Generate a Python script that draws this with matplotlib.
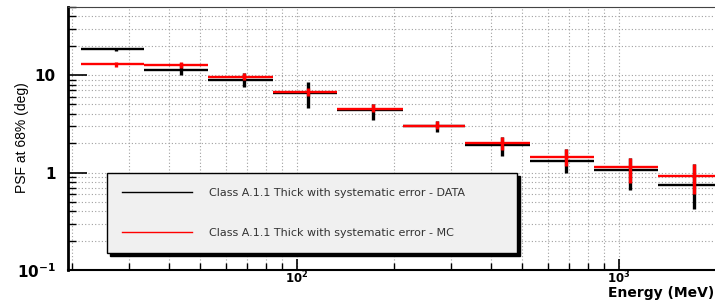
import numpy as np
import matplotlib
matplotlib.use('Agg')
import matplotlib.pyplot as plt
from matplotlib.ticker import LogLocator, FixedLocator, FixedFormatter, NullFormatter
from matplotlib.lines import Line2D

# energy bins (MeV) and PSF 68% containment (deg)
energy = [27.4, 43.4, 68.4, 108, 172, 272, 432, 684, 1082, 1710]
e_lo = [21.3, 33.5, 52.9, 84.2, 133, 213, 333, 529, 836, 1322]
e_hi = [33.5, 52.9, 84.2, 133, 213, 333, 529, 836, 1322, 2100]

psf_data = [18.4, 11.3, 9.0, 6.5, 4.35, 2.97, 1.93, 1.30, 1.05, 0.74]
data_up = [19.2, 13.3, 10.4, 8.4, 5.0, 3.39, 2.34, 1.74, 1.41, 1.23]
data_lo = [17.6, 10.0, 7.6, 4.57, 3.47, 2.6, 1.49, 0.98, 0.67, 0.42]

psf_mc = [13.0, 12.6, 9.6, 6.76, 4.5, 3.02, 2.01, 1.45, 1.13, 0.916]
mc_up = [13.6, 13.7, 10.4, 7.3, 5.0, 3.39, 2.34, 1.74, 1.41, 1.23]
mc_lo = [12.2, 11.7, 8.9, 6.1, 4.16, 2.78, 1.69, 1.16, 0.78, 0.60]

lbl_data = 'Class A.1.1 Thick with systematic error - DATA'
lbl_mc = 'Class A.1.1 Thick with systematic error - MC'

e = np.array(energy)
xerr = [e - np.array(e_lo), np.array(e_hi) - e]

fig = plt.figure(figsize=(7.15, 3.0), dpi=100)
ax = fig.add_axes([68/715, 30/300, 652/715, 263/300])
ax.set_xscale('log')
ax.set_yscale('log')
ax.set_xlim(19.4, 2060)
ax.set_ylim(0.1, 50)

# ----- grid
ax.grid(True, which='both', ls=(0, (1, 2)), color='#a0a0a0', lw=0.8)
ax.set_axisbelow(True)

# ----- DATA (black) then MC (red) on top
for y, lo, up, col in [(psf_data, data_lo, data_up, 'black'),
                       (psf_mc, mc_lo, mc_up, '#ff0000')]:
    y = np.array(y)
    yerr = [y - np.array(lo), np.array(up) - y]
    ax.errorbar(e, y, xerr=xerr, fmt='none', ecolor=col, elinewidth=1.7, capsize=0)
    ax.errorbar(e, y, yerr=yerr, fmt='none', ecolor=col, elinewidth=2.4, capsize=0)

# ----- ticks
ax.xaxis.set_major_locator(FixedLocator([100, 1000]))
ax.xaxis.set_major_formatter(FixedFormatter([r'$\mathbf{10^{2}}$', r'$\mathbf{10^{3}}$']))
ax.xaxis.set_minor_locator(LogLocator(base=10, subs=np.arange(2, 10)))
ax.xaxis.set_minor_formatter(NullFormatter())
ax.yaxis.set_major_locator(FixedLocator([0.1, 1, 10]))
ax.yaxis.set_major_formatter(FixedFormatter([r'$\mathbf{10^{-1}}$', '1', '10']))
ax.yaxis.set_minor_locator(LogLocator(base=10, subs=np.arange(2, 10)))
ax.yaxis.set_minor_formatter(NullFormatter())

ax.tick_params(axis='both', which='both', direction='in', top=False, right=False)
ax.tick_params(axis='y', which='major', length=14, width=1.2, pad=9, labelsize=11)
ax.tick_params(axis='y', which='minor', length=6, width=1.0)
ax.tick_params(axis='x', which='major', length=8, width=1.2, pad=0, labelsize=8.5)
ax.tick_params(axis='x', which='minor', length=5, width=1.0)
for t in ax.get_yticklabels() + ax.get_xticklabels():
    t.set_fontweight('bold')

ax.spines['left'].set_linewidth(2.0)
ax.spines['bottom'].set_linewidth(1.5)
ax.spines['top'].set_linewidth(0.8)
ax.spines['top'].set_color('#444444')
ax.spines['right'].set_visible(False)

# ----- axis titles
fig.text(22/715, 1 - 138/300, 'PSF at 68% (deg)', rotation=90, ha='center', va='center',
         fontsize=10, family='Liberation Sans')
fig.text(0.999, 0.5/300, 'Energy (MeV)', ha='right', va='bottom',
         fontsize=10, fontweight='bold')

# ----- legend
handles = [Line2D([], [], color='black', lw=1.0), Line2D([], [], color='#ff0000', lw=1.0)]
fs = 8
px = fs * 100 / 72
leg = ax.legend(handles, [lbl_data, lbl_mc], loc='lower left', mode='expand',
                bbox_to_anchor=((107 - 68)/652, (270 - 253)/263, (517 - 107)/652, 0.2),
                fontsize=fs, handlelength=70/px, handletextpad=17/px, labelspacing=41/px - 1,
                borderpad=15/px, borderaxespad=0, fancybox=False, framealpha=1,
                shadow={'color': 'black', 'alpha': 1.0, 'ox': 1.8, 'oy': -1.8})
leg.get_frame().set_facecolor('#f0f0f0')
leg.get_frame().set_edgecolor('black')
leg.get_frame().set_linewidth(1.0)
for t in leg.get_texts():
    t.set_color('#333333')

fig.savefig('out.png', dpi=100)
